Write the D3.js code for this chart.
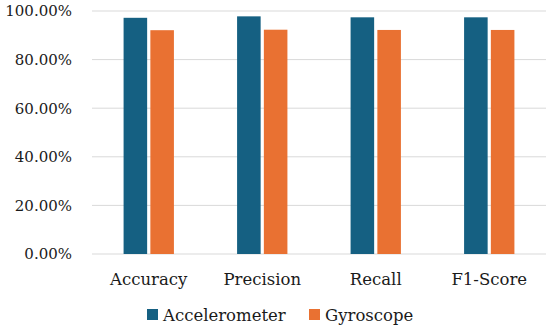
<!DOCTYPE html>
<html>
<head>
<meta charset="utf-8">
<script src="https://cdn.jsdelivr.net/npm/d3@7"></script>
<style>
    html, body { margin: 0; padding: 0; background: #fff; }
    svg { display: block; }
</style>
</head>
<body>
<div id="chart"></div>
<script>
// chart data
const categories = ['Accuracy', 'Precision', 'Recall', 'F1-Score'];
const seriesNames = ['Accelerometer', 'Gyroscope'];
const accelerometer = [97.2, 97.8, 97.4, 97.4];
const gyroscope = [92.1, 92.3, 92.2, 92.2];
const yTicks = [0, 20, 40, 60, 80, 100];
const colors = ['#156082', '#e97132'];

const width = 550;
const height = 331;
const margin = { top: 11, right: 4, bottom: 77, left: 92 };
const chartWidth = width - margin.left - margin.right;
const chartHeight = height - margin.top - margin.bottom;
const font = '"DejaVu Serif", "Liberation Serif", serif';

const svg = d3.select('#chart').append('svg')
    .attr('width', width)
    .attr('height', height);

const g = svg.append('g')
    .attr('transform', 'translate(' + margin.left + ',' + margin.top + ')');

const x0 = d3.scaleBand()
    .domain(categories)
    .range([0, chartWidth])
    .paddingInner(0.5)
    .paddingOuter(0.25);

const x1 = d3.scaleBand()
    .domain(seriesNames)
    .range([0, x0.bandwidth()])
    .padding(0.12);

const y = d3.scaleLinear()
    .domain([0, 100])
    .range([chartHeight, 0]);

// gridlines
g.append('g')
    .selectAll('line')
    .data(yTicks)
    .enter()
    .append('line')
    .attr('x1', 0)
    .attr('x2', chartWidth)
    .attr('y1', d => y(d))
    .attr('y2', d => y(d))
    .attr('stroke', '#d9d9d9')
    .attr('stroke-width', 1);

// y axis labels
const yAxis = d3.axisLeft(y)
    .tickValues(yTicks)
    .tickSize(0)
    .tickPadding(20)
    .tickFormat(d => d.toFixed(2) + '%');

g.append('g')
    .attr('class', 'y-axis')
    .call(yAxis)
    .call(sel => sel.select('.domain').remove())
    .selectAll('text')
    .style('font-family', font)
    .style('font-size', '15px')
    .style('fill', '#1a1a1a');

// bars
const rows = categories.map((c, i) => ({
    cat: c,
    values: [
        { key: seriesNames[0], v: accelerometer[i] },
        { key: seriesNames[1], v: gyroscope[i] }
    ]
}));

const groups = g.selectAll('.group')
    .data(rows)
    .enter()
    .append('g')
    .attr('class', 'group')
    .attr('transform', d => 'translate(' + x0(d.cat) + ',0)');

groups.selectAll('rect')
    .data(d => d.values)
    .enter()
    .append('rect')
    .attr('x', d => x1(d.key))
    .attr('y', d => y(d.v))
    .attr('width', x1.bandwidth())
    .attr('height', d => y(0) - y(d.v))
    .attr('fill', (d, i) => colors[i]);

// x axis labels
const xAxis = d3.axisBottom(x0).tickSize(0).tickPadding(19);
g.append('g')
    .attr('transform', 'translate(0,' + chartHeight + ')')
    .call(xAxis)
    .call(sel => sel.select('.domain').remove())
    .selectAll('text')
    .style('font-family', font)
    .style('font-size', '16.5px')
    .style('fill', '#1a1a1a');

// legend
const legendItems = [
    { name: seriesNames[0], color: colors[0], x: 147 },
    { name: seriesNames[1], color: colors[1], x: 309 }
];
const legend = svg.append('g');
legendItems.forEach(item => {
    legend.append('rect')
        .attr('x', item.x)
        .attr('y', 309)
        .attr('width', 11)
        .attr('height', 11)
        .attr('fill', item.color);
    legend.append('text')
        .attr('x', item.x + 16)
        .attr('y', 321)
        .style('font-family', font)
        .style('font-size', '16.5px')
        .style('fill', '#1a1a1a')
        .text(item.name);
});
</script>
</body>
</html>
